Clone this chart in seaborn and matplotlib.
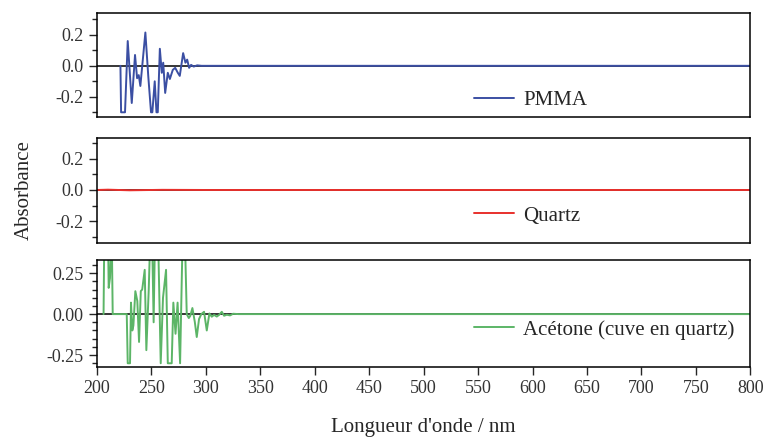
import numpy as np
import pandas as pd
import matplotlib
matplotlib.use("Agg")
import matplotlib.pyplot as plt
from matplotlib.ticker import MultipleLocator
import seaborn as sns

# spectres (nm, absorbance)
pmma_wl = [221.5, 222.1, 225.7, 228.2, 231.9, 234.9, 236.8, 238.3, 239.8, 244.4,
           247.1, 249.6, 250.8, 253.0, 254.6, 255.8, 257.7, 259.5, 260.8, 262.6,
           265.0, 266.9, 269.6, 271.8, 274.2, 276.0, 279.1, 281.2, 282.8, 284.6,
           286.4, 288.8, 292.0, 296.0, 800.0]
pmma_abs = [0.0, -0.30, -0.30, 0.16, -0.24, 0.07, -0.08, -0.06, -0.13, 0.215,
            -0.07, -0.30, -0.30, -0.10, -0.30, -0.30, 0.11, -0.045, 0.02, -0.175,
            -0.045, -0.085, -0.026, -0.013, -0.045, -0.065, 0.082, 0.02, 0.04, -0.013,
            0.006, -0.005, 0.003, 0.0, 0.0]

quartz_wl = [200.0, 210.0, 230.0, 260.0, 300.0, 400.0, 500.0, 600.0, 700.0, 800.0]
quartz_abs = [0.0, 0.002, -0.002, 0.001, 0.0, 0.0, 0.0, 0.0, 0.0, 0.0]

acet_wl = [206.0, 206.7, 210.1, 210.7, 211.9, 213.5, 214.4, 227.3, 228.2, 230.3,
           231.2, 232.4, 233.4, 235.2, 237.0, 238.6, 240.2, 241.5, 243.8, 245.3,
           247.5, 249.0, 250.5, 252.0, 253.3, 256.0, 258.5, 260.6, 263.4, 265.0,
           268.6, 270.1, 272.1, 274.0, 276.3, 278.7, 280.6, 282.4, 284.3, 285.7,
           287.6, 289.8, 291.6, 293.7, 295.8, 298.3, 300.8, 303.2, 305.4, 307.5,
           310.0, 312.1, 314.6, 316.7, 319.2, 322.2, 325.0, 330.0, 800.0]
acet_abs = [0.0, 0.5, 0.5, 0.16, 0.22, 0.5, 0.0, 0.0, -0.30, -0.30,
            0.07, -0.10, -0.07, 0.14, 0.08, -0.17, 0.14, 0.15, 0.27, -0.22,
            0.15, 0.5, 0.5, -0.05, 0.5, 0.5, -0.30, 0.10, 0.27, -0.30,
            -0.30, 0.07, -0.12, 0.07, -0.30, 0.5, 0.5, 0.0, -0.024, -0.01,
            0.037, -0.047, -0.14, -0.03, 0.0, 0.014, -0.10, 0.004, -0.016, -0.005,
            -0.015, -0.005, 0.014, -0.01, -0.004, -0.008, 0.002, 0.0, 0.0]

series = [
    ("PMMA", pmma_wl, pmma_abs, "#3b4fa3", (-0.33, 0.34), 0.2, 0.1, "%.1f", 0.16),
    ("Quartz", quartz_wl, quartz_abs, "#e8302c", (-0.342, 0.335), 0.2, 0.1, "%.1f", 0.26),
    ("Acétone (cuve en quartz)", acet_wl, acet_abs, "#5cb567", (-0.323, 0.329), 0.25, 0.05, "%.2f", 0.35),
]

sns.set_style("ticks")
plt.rcParams["font.family"] = ["Liberation Serif", "DejaVu Serif"]
plt.rcParams["axes.unicode_minus"] = False

fig = plt.figure(figsize=(7.64, 4.38), dpi=100)
boxes = [(0.733, 0.970), (0.445, 0.685), (0.162, 0.406)]
left, right = 0.127, 0.982

axes = []
for (name, wl, ab, col, ylim, maj, mino, fmt, ly), (b, t) in zip(series, boxes):
    ax = fig.add_axes([left, b, right - left, t - b])
    ax.axhline(0, color="black", lw=1.1, zorder=1)
    df = pd.DataFrame({"wl": wl, "abs": ab})
    sns.lineplot(data=df, x="wl", y="abs", ax=ax, color=col, lw=1.4,
                 label=name, zorder=2, sort=False)
    ax.set_xlim(200, 800)
    ax.set_ylim(*ylim)
    ax.yaxis.set_major_locator(MultipleLocator(maj))
    ax.yaxis.set_minor_locator(MultipleLocator(mino))
    ax.yaxis.set_major_formatter(matplotlib.ticker.FormatStrFormatter(fmt))
    ax.tick_params(axis="y", which="major", length=6, width=1, labelsize=13,
                   direction="out", labelcolor="#333333")
    ax.tick_params(axis="y", which="minor", length=3.5, width=1, direction="out")
    ax.set_xlabel("")
    ax.set_ylabel("")
    for s in ax.spines.values():
        s.set_visible(True)
        s.set_linewidth(1.1)
        s.set_color("black")
    ax.legend(loc="center left", bbox_to_anchor=(0.565, ly), frameon=False,
              fontsize=15, handlelength=1.9, handletextpad=0.45, borderaxespad=0)
    axes.append(ax)

for ax in axes[:2]:
    ax.tick_params(axis="x", which="both", bottom=False, labelbottom=False)

axes[2].xaxis.set_major_locator(MultipleLocator(50))
axes[2].tick_params(axis="x", length=6, width=1, labelsize=13, direction="out",
                    labelcolor="#333333")

fig.text(0.5545, 0.003, "Longueur d'onde / nm", ha="center", va="bottom", fontsize=15)
fig.text(0.032, 0.565, "Absorbance", rotation=90, ha="center", va="center", fontsize=15)

fig.savefig("out.png", dpi=100)
